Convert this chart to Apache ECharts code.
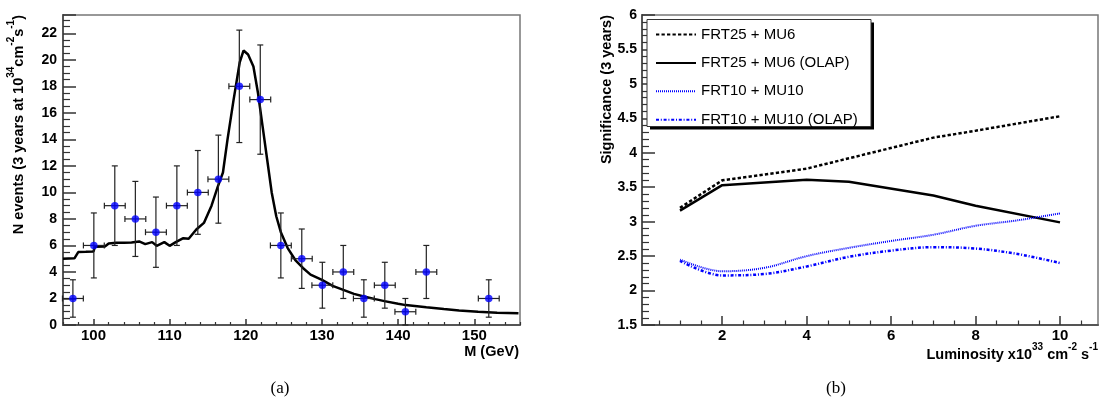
<!DOCTYPE html>
<html><head><meta charset="utf-8">
<script src="https://cdn.jsdelivr.net/npm/echarts@6/dist/echarts.min.js"></script>
<style>html,body{margin:0;padding:0;background:#fff}#c{width:1100px;height:408px}</style>
</head><body><div id="c"></div>
<script>
// ---------- panel (a): invariant mass ----------
const massX   = [97.3, 100.05, 102.8, 105.5, 108.2, 110.95, 113.7, 116.4, 119.15, 121.9, 124.6, 127.35, 130.05, 132.8, 135.5, 138.25, 140.95, 143.7, 151.9];
const nEvents = [2, 6, 9, 8, 7, 9, 10, 11, 18, 17, 6, 5, 3, 4, 2, 3, 1, 4, 2];
const errMass = [1.37, 1.37, 1.37, 1.37, 1.37, 1.37, 1.37, 1.37, 1.37, 1.37, 1.37, 1.37, 1.37, 1.37, 1.37, 1.37, 1.37, 1.37, 1.37];
const errEvents = [1.41, 2.45, 3.0, 2.83, 2.65, 3.0, 3.16, 3.32, 4.24, 4.12, 2.45, 2.24, 1.73, 2.0, 1.41, 1.73, 1.0, 2.0, 1.41];
const fitMass   = [96, 97.5, 98, 99, 100, 100.2, 101.5, 102, 103, 104, 105, 106, 106.8, 107.7, 108.3, 109.3, 110, 110.8, 111.8, 112.5, 113.5, 114.5, 115.5, 116.3, 117, 117.6, 118.4, 119.2, 119.7, 120.3, 121, 121.6, 122.2, 122.8, 123.4, 124, 124.6, 125.5, 126.5, 127.5, 128.5, 130, 131.4, 132.8, 134.2, 135.5, 137, 138.2, 140, 141, 143.7, 146, 148, 150.5, 153, 155.8];
const fitEvents = [5.0, 5.03, 5.5, 5.52, 5.55, 5.9, 5.92, 6.15, 6.2, 6.2, 6.22, 6.3, 6.1, 6.25, 5.97, 6.25, 5.97, 6.25, 6.55, 6.5, 7.2, 7.7, 9.0, 10.4, 11.5, 14.0, 17.0, 19.8, 20.7, 20.4, 19.5, 17.5, 15.0, 12.5, 10.0, 8.2, 7.0, 5.8, 4.9, 4.3, 3.8, 3.4, 2.95, 2.65, 2.35, 2.15, 1.95, 1.8, 1.6, 1.5, 1.33, 1.2, 1.1, 1.0, 0.93, 0.88];
const massMajorTicks = [100, 110, 120, 130, 140, 150];
const massMinorTicks = [96, 98, 102, 104, 106, 108, 112, 114, 116, 118, 122, 124, 126, 128, 132, 134, 136, 138, 142, 144, 146, 148, 152, 154, 156];

// ---------- panel (b): significance vs luminosity ----------
const lumi          = [1, 2, 4, 5, 7, 8, 10];
const sigFRT25      = [3.2, 3.6, 3.77, 3.92, 4.22, 4.32, 4.53];
const sigFRT25olap  = [3.16, 3.53, 3.61, 3.58, 3.38, 3.23, 2.99];
const lumiFine      = [1, 2, 3, 4, 5, 6, 7, 8, 9, 10];
const sigFRT10      = [2.45, 2.28, 2.33, 2.5, 2.62, 2.72, 2.81, 2.94, 3.02, 3.12];
const sigFRT10olap  = [2.43, 2.22, 2.24, 2.35, 2.49, 2.58, 2.63, 2.61, 2.53, 2.40];
const lumiMajorTicks = [2, 4, 6, 8, 10];
const lumiMinorTicks = [0.5, 1, 1.5, 2.5, 3, 3.5, 4.5, 5, 5.5, 6.5, 7, 7.5, 8.5, 9, 9.5, 10.5];
const seriesNames = ['FRT25 + MU6', 'FRT25 + MU6 (OLAP)', 'FRT10 + MU10', 'FRT10 + MU10 (OLAP)'];

const zip = (a, b) => a.map((v, i) => [v, b[i]]);
const FONT = '"Liberation Sans", Arial, Helvetica, sans-serif';
const AX = '#555', TK = '#333';

const chart = echarts.init(document.getElementById('c'), null, {renderer: 'canvas'});

function mainX(gridIndex, min, max, majors, tickLen) {
  return {
    type: 'value', gridIndex, min, max, position: 'bottom',
    axisLine: {show: true, onZero: false, lineStyle: {color: AX, width: 2}},
    axisTick: {show: true, inside: true, length: tickLen, customValues: majors, lineStyle: {color: TK, width: 1.5}},
    axisLabel: {show: true, customValues: majors, color: '#000', fontFamily: FONT, fontWeight: 'bold', fontSize: 15, margin: 3},
    splitLine: {show: false}
  };
}
function minorX(gridIndex, min, max, minors, tickLen) {
  return {
    type: 'value', gridIndex, min, max, position: 'bottom',
    axisLine: {show: false},
    axisTick: {show: true, inside: true, length: tickLen, customValues: minors, lineStyle: {color: TK, width: 1.2}},
    axisLabel: {show: false},
    splitLine: {show: false}
  };
}

const option = {
  animation: false,
  backgroundColor: '#fff',
  grid: [
    {left: 63, top: 15, width: 457, height: 310, show: true, borderColor: '#777', borderWidth: 1.5, containLabel: false},
    {left: 642, top: 15, width: 456, height: 310, show: true, borderColor: '#777', borderWidth: 1.5, containLabel: false}
  ],
  xAxis: [
    mainX(0, 96, 156, massMajorTicks, 6),
    minorX(0, 96, 156, massMinorTicks, 3),
    mainX(1, 0.1, 10.9, lumiMajorTicks, 9),
    minorX(1, 0.1, 10.9, lumiMinorTicks, 4.5)
  ],
  yAxis: [
    {
      type: 'value', gridIndex: 0, min: 0, max: 23.38, interval: 2,
      axisLine: {show: true, onZero: false, lineStyle: {color: AX, width: 2}},
      axisTick: {show: true, inside: true, length: 13, lineStyle: {color: TK, width: 1.5}},
      minorTick: {show: true, splitNumber: 4, length: 7, lineStyle: {color: TK, width: 1.2}},
      axisLabel: {color: '#000', fontFamily: FONT, fontWeight: 'bold', fontSize: 14, margin: 6,
        formatter: v => (Math.abs(v % 2) < 1e-9 ? String(v) : '')},
      splitLine: {show: false}, minorSplitLine: {show: false}
    },
    {
      type: 'value', gridIndex: 1, min: 1.5, max: 6, interval: 0.5,
      axisLine: {show: true, onZero: false, lineStyle: {color: AX, width: 2}},
      axisTick: {show: true, inside: true, length: 13, lineStyle: {color: TK, width: 1.5}},
      minorTick: {show: true, splitNumber: 5, length: 7, lineStyle: {color: TK, width: 1.2}},
      axisLabel: {color: '#000', fontFamily: FONT, fontWeight: 'bold', fontSize: 14, margin: 5},
      splitLine: {show: false}, minorSplitLine: {show: false}
    }
  ],
  legend: {
    show: true, orient: 'vertical', left: 655, top: 27, z: 30,
    itemWidth: 40, itemHeight: 12, itemGap: 13.4,
    data: seriesNames,
    itemStyle: {opacity: 0},
    textStyle: {color: '#000', fontFamily: FONT, fontSize: 15},
    selectedMode: false, padding: 0
  },
  series: [
    {
      type: 'line', name: 'fit', xAxisIndex: 0, yAxisIndex: 0,
      data: zip(fitMass, fitEvents), symbol: 'none', smooth: false, z: 2,
      lineStyle: {color: '#000', width: 2.5}
    },
    {
      type: 'custom', name: 'errors', xAxisIndex: 0, yAxisIndex: 0, z: 3,
      data: massX.map((x, i) => [x, nEvents[i], errMass[i], errEvents[i]]),
      renderItem: function (params, api) {
        const x = api.value(0), y = api.value(1), ex = api.value(2), ey = api.value(3);
        const l = api.coord([x - ex, y]), r = api.coord([x + ex, y]);
        const t = api.coord([x, y + ey]), b = api.coord([x, y - ey]);
        const st = {stroke: '#222', lineWidth: 1.2};
        const cap = 3;
        return {
          type: 'group',
          children: [
            {type: 'line', shape: {x1: l[0], y1: l[1], x2: r[0], y2: r[1]}, style: st},
            {type: 'line', shape: {x1: t[0], y1: t[1], x2: b[0], y2: b[1]}, style: st},
            {type: 'line', shape: {x1: l[0], y1: l[1] - cap, x2: l[0], y2: l[1] + cap}, style: st},
            {type: 'line', shape: {x1: r[0], y1: r[1] - cap, x2: r[0], y2: r[1] + cap}, style: st},
            {type: 'line', shape: {x1: t[0] - cap, y1: t[1], x2: t[0] + cap, y2: t[1]}, style: st},
            {type: 'line', shape: {x1: b[0] - cap, y1: b[1], x2: b[0] + cap, y2: b[1]}, style: st}
          ]
        };
      }
    },
    {
      type: 'scatter', name: 'data', xAxisIndex: 0, yAxisIndex: 0, z: 4,
      data: zip(massX, nEvents), symbol: 'circle', symbolSize: 7.5,
      itemStyle: {color: '#0000ff'}
    },
    {
      type: 'line', name: seriesNames[0], xAxisIndex: 2, yAxisIndex: 1,
      data: zip(lumi, sigFRT25), symbol: 'none', z: 2,
      lineStyle: {color: '#000', width: 2.5, type: [3.3, 2.2]}, itemStyle: {color: '#000'}
    },
    {
      type: 'line', name: seriesNames[1], xAxisIndex: 2, yAxisIndex: 1,
      data: zip(lumi, sigFRT25olap), symbol: 'none', z: 2,
      lineStyle: {color: '#000', width: 2.5, type: 'solid'}, itemStyle: {color: '#000'}
    },
    {
      type: 'line', name: seriesNames[2], xAxisIndex: 2, yAxisIndex: 1,
      data: zip(lumiFine, sigFRT10), symbol: 'none', smooth: 0.35, z: 2,
      lineStyle: {color: '#0000ff', width: 2, type: [1, 1]}, itemStyle: {color: '#0000ff'}
    },
    {
      type: 'line', name: seriesNames[3], xAxisIndex: 2, yAxisIndex: 1,
      data: zip(lumiFine, sigFRT10olap), symbol: 'none', smooth: 0.35, z: 2,
      lineStyle: {color: '#0000ff', width: 2.5, type: [3, 1.8, 1, 1.8]}, itemStyle: {color: '#0000ff'}
    }
  ],
  graphic: [
    // legend frame with drop shadow
    {type: 'rect', z: 10, shape: {x: 650, y: 22.5, width: 224, height: 107}, style: {fill: '#000'}},
    {type: 'rect', z: 11, shape: {x: 647, y: 19.5, width: 224, height: 107}, style: {fill: '#fff', stroke: '#333', lineWidth: 1}},
    // axis titles
    {type: 'text', z: 12, x: 16, y: 15, rotation: Math.PI / 2,
      style: {text: '{b|N events (3 years at 10}{s|34}{b|cm}{s|-2}{b|s}{s|-1}{b|)}', align: 'right', verticalAlign: 'middle',
        rich: {b: {fontFamily: FONT, fontWeight: 'bold', fontSize: 14.5, fill: '#000', lineHeight: 20, verticalAlign: 'bottom'},
               s: {fontFamily: FONT, fontWeight: 'bold', fontSize: 10, fill: '#000', lineHeight: 20, verticalAlign: 'top'}}}},
    {type: 'text', z: 12, x: 607, y: 15, rotation: Math.PI / 2,
      style: {text: 'Significance (3 years)', align: 'right', verticalAlign: 'middle',
        fontFamily: FONT, fontWeight: 'bold', fontSize: 14.5, fill: '#000'}},
    {type: 'text', z: 12, x: 519, y: 352,
      style: {text: 'M (GeV)', align: 'right', verticalAlign: 'middle',
        fontFamily: FONT, fontWeight: 'bold', fontSize: 14.5, fill: '#000'}},
    {type: 'text', z: 12, x: 1098, y: 352,
      style: {text: '{b|Luminosity x10}{s|33}{b| cm}{s|-2}{b| s}{s|-1}', align: 'right', verticalAlign: 'middle',
        rich: {b: {fontFamily: FONT, fontWeight: 'bold', fontSize: 14.5, fill: '#000', lineHeight: 20, verticalAlign: 'bottom'},
               s: {fontFamily: FONT, fontWeight: 'bold', fontSize: 10, fill: '#000', lineHeight: 20, verticalAlign: 'top'}}}},
    // panel captions
    {type: 'text', z: 12, x: 280, y: 389,
      style: {text: '(a)', align: 'center', verticalAlign: 'middle', fontFamily: '"Liberation Serif", "Times New Roman", serif', fontSize: 17, fill: '#000'}},
    {type: 'text', z: 12, x: 836, y: 389,
      style: {text: '(b)', align: 'center', verticalAlign: 'middle', fontFamily: '"Liberation Serif", "Times New Roman", serif', fontSize: 17, fill: '#000'}}
  ]
};
chart.setOption(option);
</script>
</body></html>
